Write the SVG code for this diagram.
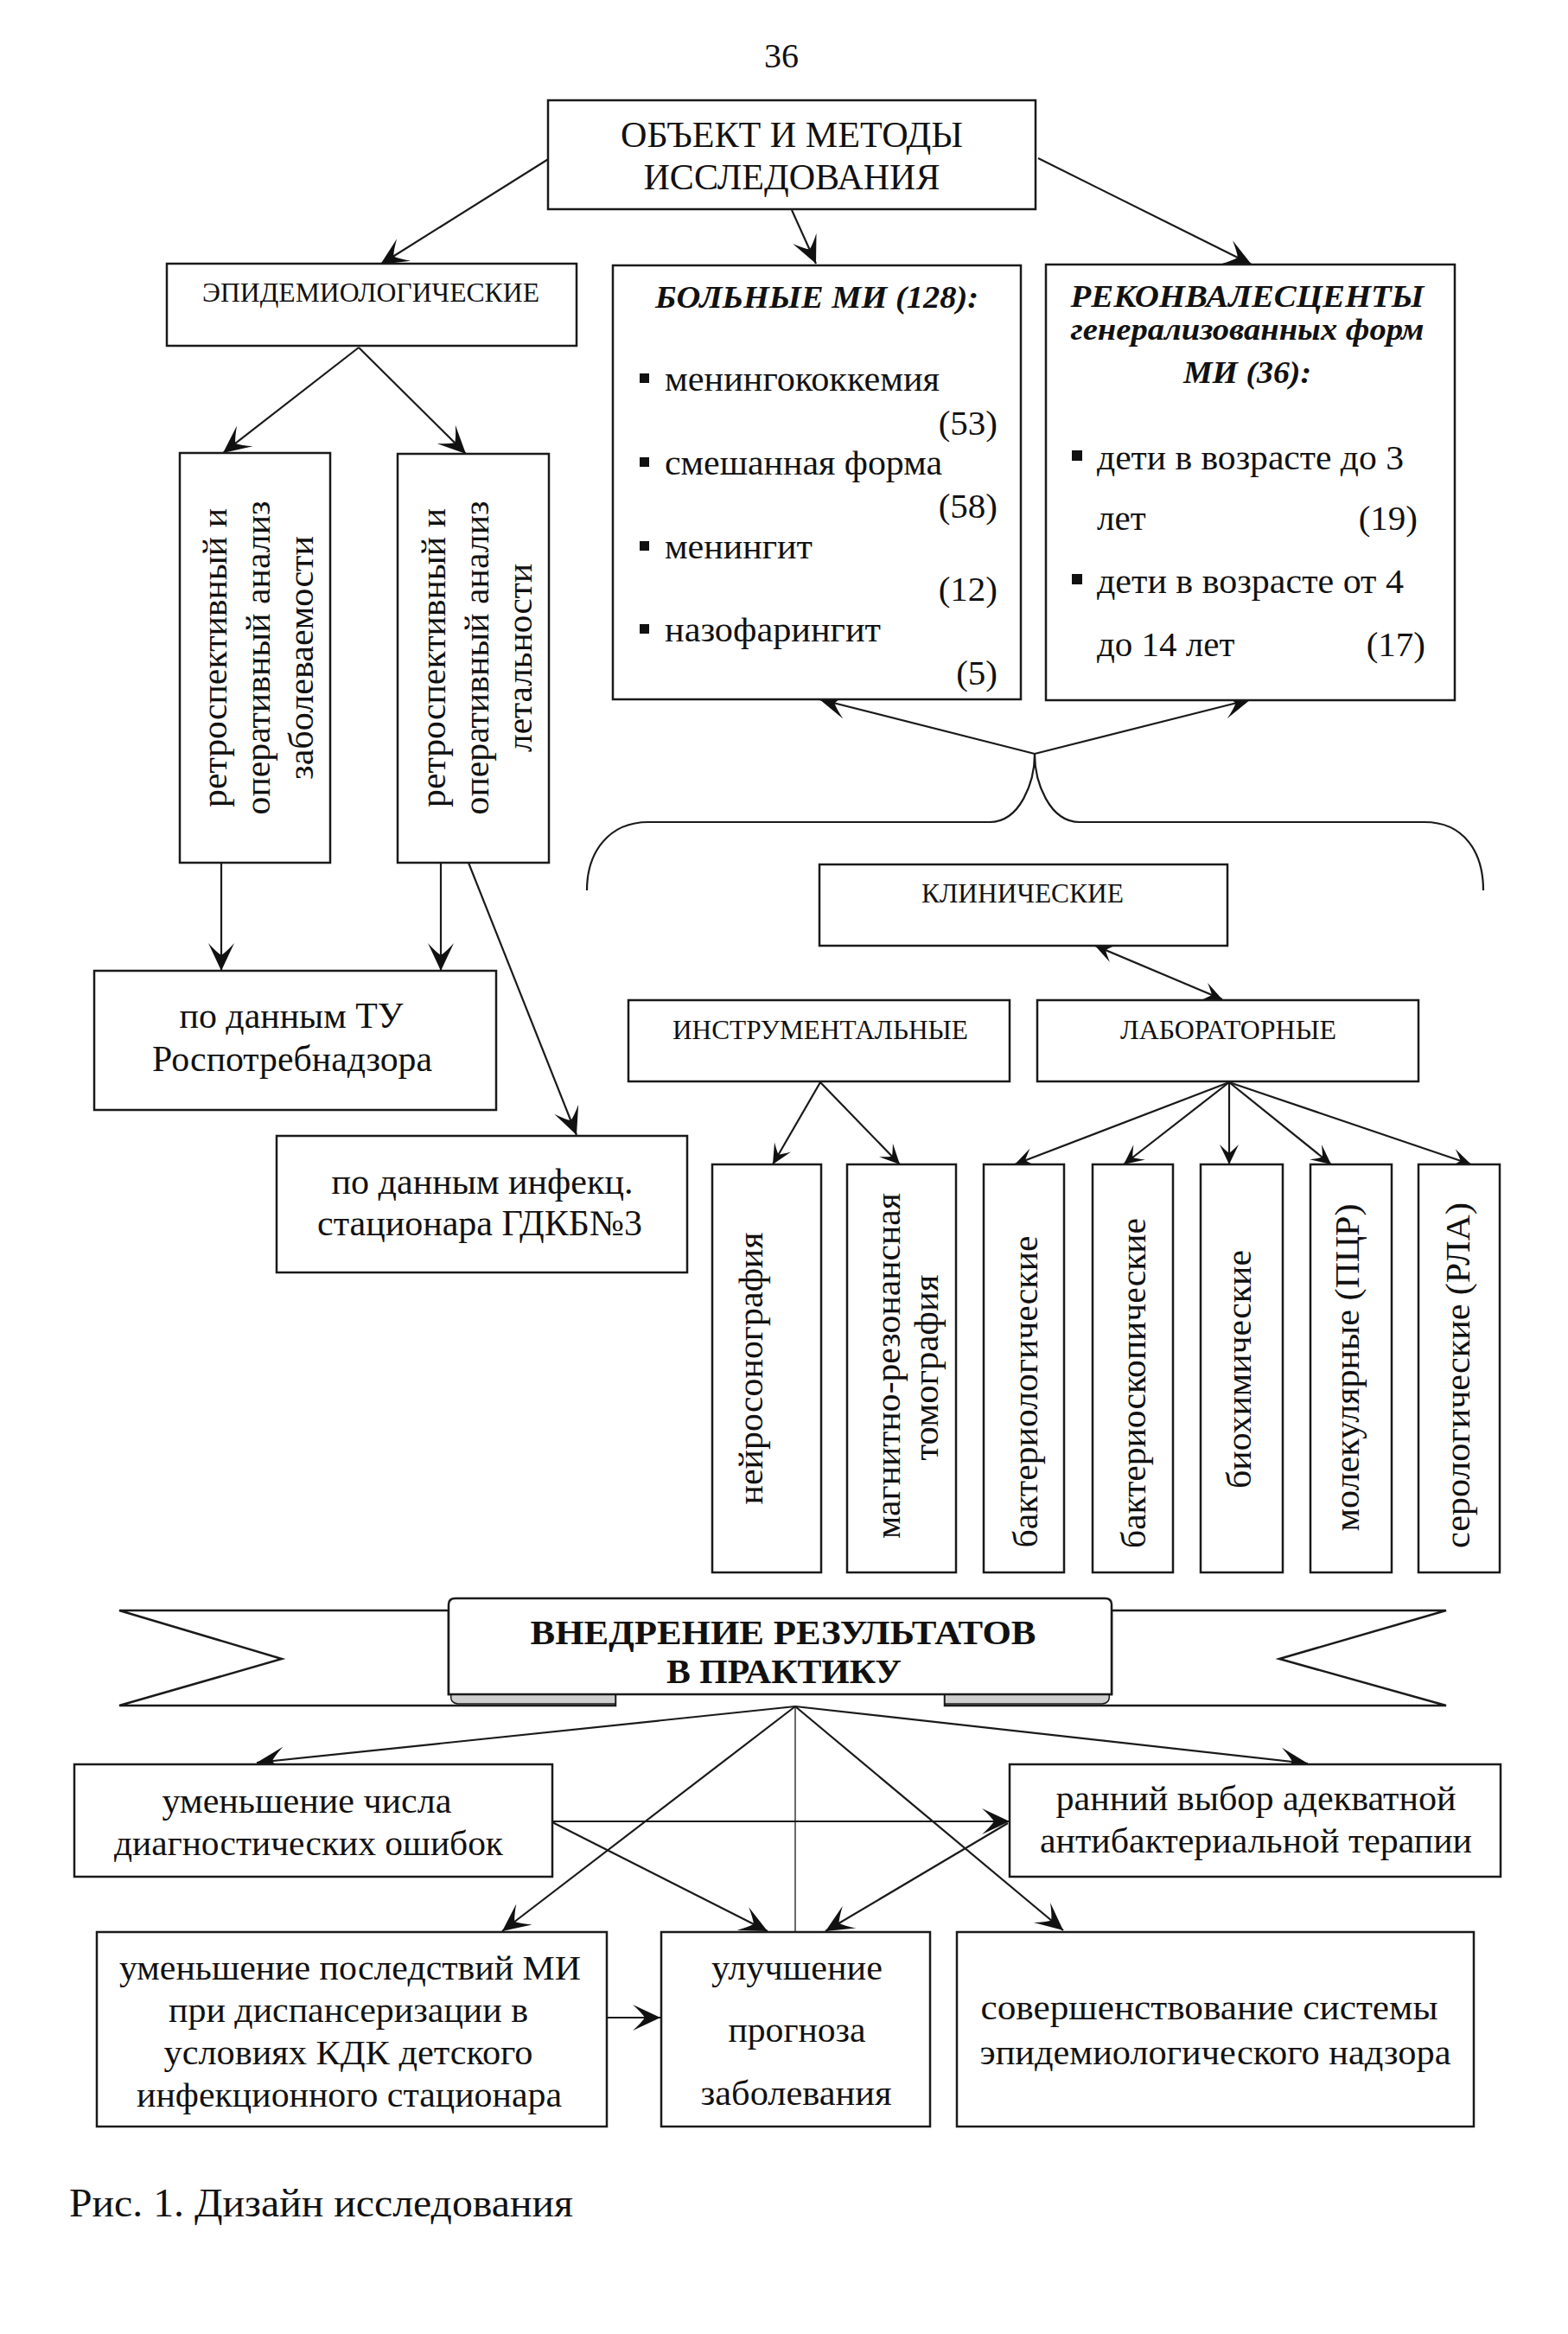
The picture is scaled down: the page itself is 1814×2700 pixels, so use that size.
<svg xmlns="http://www.w3.org/2000/svg" width="1814" height="2700" viewBox="0 0 1814 2700">
<defs>
<style>
text{font-family:"Liberation Serif","DejaVu Serif",serif;fill:#111}
.box{fill:#fff;stroke:#1a1a1a;stroke-width:2.5}
.ln{fill:none;stroke:#1a1a1a;stroke-width:2.2}
.thin{fill:none;stroke:#1a1a1a;stroke-width:1.3}
.a{marker-end:url(#ah)}
.s{marker-end:url(#ahs)}
.ds{marker-start:url(#ahs2);marker-end:url(#ahs)}
.t41{font-size:41px}
.t42{font-size:42px}
.t31{font-size:31px}
.bi{font-weight:bold;font-style:italic;font-size:35px}
.b{font-weight:bold;font-size:39px}
.m{text-anchor:middle}
.e{text-anchor:end}
.bul{fill:#111}
</style>
<marker id="ah" viewBox="-34 -17 36 34" refX="0" refY="0" markerWidth="36" markerHeight="34" markerUnits="userSpaceOnUse" orient="auto"><path d="M0,0 L-32,-15 Q-22,-6 -18,0 Q-22,6 -32,15 Z" fill="#111"/></marker>
<marker id="ahs" viewBox="-26 -13 28 26" refX="0" refY="0" markerWidth="28" markerHeight="26" markerUnits="userSpaceOnUse" orient="auto"><path d="M0,0 L-23,-11 Q-16,-4 -13,0 Q-16,4 -23,11 Z" fill="#111"/></marker>
<marker id="ahs2" viewBox="-26 -13 28 26" refX="0" refY="0" markerWidth="28" markerHeight="26" markerUnits="userSpaceOnUse" orient="auto-start-reverse"><path d="M0,0 L-23,-11 Q-16,-4 -13,0 Q-16,4 -23,11 Z" fill="#111"/></marker>
</defs>
<rect width="1814" height="2700" fill="#fff"/>
<text x="904" y="78" class="m" font-size="40">36</text>

<g id="connectors">
<path class="ln a" d="M636,183 L440,306"/>
<path class="ln a" d="M916,243 L944,305"/>
<path class="ln a" d="M1201,183 L1448,306"/>
<path class="ln a" d="M415,402 L258,524"/>
<path class="ln a" d="M415,402 L539,525"/>
<path class="ln a" d="M256,998 L256,1123"/>
<path class="ln a" d="M510,998 L510,1123"/>
<path class="ln a" d="M542,998 L667,1313"/>
<path class="ln" d="M679,1030 C679,985 705,951 750,951 L1145,951 C1180,951 1197,905 1197,872 C1197,905 1214,951 1249,951 L1648,951 C1693,951 1716,985 1716,1030"/>
<path class="ln a" d="M1197,872 L948,809"/>
<path class="ln a" d="M1197,872 L1447,809"/>
<path class="ln ds" d="M1267,1094 L1414,1156"/>
<path class="ln s" d="M949,1252 L894,1347"/>
<path class="ln s" d="M949,1252 L1041,1347"/>
<path class="ln s" d="M1422,1252 L1174,1347"/>
<path class="ln s" d="M1422,1252 L1300,1347"/>
<path class="ln s" d="M1422,1252 L1422,1347"/>
<path class="ln s" d="M1422,1252 L1540,1347"/>
<path class="ln s" d="M1422,1252 L1702,1347"/>
<path class="ln a" d="M920,1974 L297,2039"/>
<path class="ln a" d="M920,1974 L581,2234"/>
<path class="thin" d="M920,1974 L920,2235"/>
<path class="ln a" d="M920,1974 L1513,2040"/>
<path class="ln a" d="M920,1974 L1230,2233"/>
<path class="ln a" d="M639,2107 L1168,2107"/>
<path class="ln a" d="M639,2108 L888,2234"/>
<path class="ln a" d="M1166,2109 L955,2234"/>
<path class="ln a" d="M702,2334 L764,2334"/>
</g>

<g id="n-top">
<rect class="box" x="634" y="116" width="564" height="126"/>
<text x="916" y="170" class="t42 m" textLength="396" lengthAdjust="spacingAndGlyphs">ОБЪЕКТ И МЕТОДЫ</text>
<text x="916" y="219" class="t42 m" textLength="343" lengthAdjust="spacingAndGlyphs">ИССЛЕДОВАНИЯ</text>
</g>

<g id="n-epid">
<rect class="box" x="193" y="305" width="474" height="95"/>
<text x="429" y="349" class="t31 m" textLength="390" lengthAdjust="spacingAndGlyphs">ЭПИДЕМИОЛОГИЧЕСКИЕ</text>
</g>

<g id="n-patients">
<rect class="box" x="709" y="307" width="472" height="502"/>
<text x="945" y="356" class="bi m" textLength="374" lengthAdjust="spacingAndGlyphs">БОЛЬНЫЕ МИ (128):</text>
<rect class="bul" x="740" y="432" width="11" height="11"/>
<text x="769" y="452" class="t41" textLength="318" lengthAdjust="spacingAndGlyphs">менингококкемия</text>
<text x="1154" y="503" class="t41 e">(53)</text>
<rect class="bul" x="740" y="529" width="11" height="11"/>
<text x="769" y="549" class="t41" textLength="321" lengthAdjust="spacingAndGlyphs">смешанная форма</text>
<text x="1154" y="599" class="t41 e">(58)</text>
<rect class="bul" x="740" y="626" width="11" height="11"/>
<text x="769" y="646" class="t41" textLength="171" lengthAdjust="spacingAndGlyphs">менингит</text>
<text x="1154" y="695" class="t41 e">(12)</text>
<rect class="bul" x="740" y="722" width="11" height="11"/>
<text x="769" y="742" class="t41" textLength="250" lengthAdjust="spacingAndGlyphs">назофарингит</text>
<text x="1154" y="792" class="t41 e">(5)</text>
</g>

<g id="n-convalescents">
<rect class="box" x="1210" y="306" width="473" height="504"/>
<text x="1443" y="355" class="bi m" textLength="409" lengthAdjust="spacingAndGlyphs">РЕКОНВАЛЕСЦЕНТЫ</text>
<text x="1443" y="393" class="bi m" textLength="409" lengthAdjust="spacingAndGlyphs">генерализованных форм</text>
<text x="1443" y="443" class="bi m" textLength="148" lengthAdjust="spacingAndGlyphs">МИ (36):</text>
<rect class="bul" x="1240" y="521" width="12" height="12"/>
<text x="1269" y="543" class="t41" textLength="355" lengthAdjust="spacingAndGlyphs">дети в возрасте до 3</text>
<text x="1269" y="613" class="t41">лет</text>
<text x="1640" y="613" class="t41 e">(19)</text>
<rect class="bul" x="1240" y="664" width="12" height="12"/>
<text x="1269" y="686" class="t41" textLength="355" lengthAdjust="spacingAndGlyphs">дети в возрасте от 4</text>
<text x="1269" y="759" class="t41">до 14 лет</text>
<text x="1649" y="759" class="t41 e">(17)</text>
</g>

<g id="n-retro1">
<rect class="box" x="208" y="524" width="174" height="474"/>
<g transform="translate(262,761) rotate(-90)"><text class="t41 m" textLength="346" lengthAdjust="spacingAndGlyphs">ретроспективный и</text></g>
<g transform="translate(312,761) rotate(-90)"><text class="t41 m" textLength="363" lengthAdjust="spacingAndGlyphs">оперативный анализ</text></g>
<g transform="translate(362,761) rotate(-90)"><text class="t41 m" textLength="282" lengthAdjust="spacingAndGlyphs">заболеваемости</text></g>
</g>

<g id="n-retro2">
<rect class="box" x="460" y="525" width="175" height="473"/>
<g transform="translate(515,761) rotate(-90)"><text class="t41 m" textLength="346" lengthAdjust="spacingAndGlyphs">ретроспективный и</text></g>
<g transform="translate(565,761) rotate(-90)"><text class="t41 m" textLength="363" lengthAdjust="spacingAndGlyphs">оперативный анализ</text></g>
<g transform="translate(615,761) rotate(-90)"><text class="t41 m" textLength="218" lengthAdjust="spacingAndGlyphs">летальности</text></g>
</g>

<g id="n-tu">
<rect class="box" x="109" y="1123" width="465" height="161"/>
<text x="337" y="1189" class="t42 m" textLength="259" lengthAdjust="spacingAndGlyphs">по данным ТУ</text>
<text x="338" y="1239" class="t42 m" textLength="324" lengthAdjust="spacingAndGlyphs">Роспотребнадзора</text>
</g>

<g id="n-hospital">
<rect class="box" x="320" y="1314" width="475" height="158"/>
<text x="558" y="1381" class="t42 m" textLength="349" lengthAdjust="spacingAndGlyphs">по данным инфекц.</text>
<text x="555" y="1429" class="t42 m" textLength="376" lengthAdjust="spacingAndGlyphs">стационара ГДКБ№3</text>
</g>

<g id="n-clinical">
<rect class="box" x="948" y="1000" width="472" height="94"/>
<text x="1183" y="1044" class="t31 m" textLength="234" lengthAdjust="spacingAndGlyphs">КЛИНИЧЕСКИЕ</text>
</g>

<g id="n-instr">
<rect class="box" x="727" y="1157" width="441" height="94"/>
<text x="949" y="1202" class="t31 m" textLength="342" lengthAdjust="spacingAndGlyphs">ИНСТРУМЕНТАЛЬНЫЕ</text>
</g>

<g id="n-lab">
<rect class="box" x="1200" y="1157" width="441" height="94"/>
<text x="1421" y="1202" class="t31 m" textLength="250" lengthAdjust="spacingAndGlyphs">ЛАБОРАТОРНЫЕ</text>
</g>

<g id="n-neuro">
<rect class="box" x="824" y="1347" width="126" height="472"/>
<g transform="translate(882,1583) rotate(-90)"><text class="t41 m" textLength="315" lengthAdjust="spacingAndGlyphs">нейросонография</text></g>
</g>
<g id="n-mri">
<rect class="box" x="980" y="1347" width="126" height="472"/>
<g transform="translate(1041,1580) rotate(-90)"><text class="t41 m" textLength="400" lengthAdjust="spacingAndGlyphs">магнитно-резонансная</text></g>
<g transform="translate(1085,1582) rotate(-90)"><text class="t41 m" textLength="215" lengthAdjust="spacingAndGlyphs">томография</text></g>
</g>
<g id="n-bact1">
<rect class="box" x="1138" y="1347" width="93" height="472"/>
<g transform="translate(1200,1610) rotate(-90)"><text class="t41 m" textLength="361" lengthAdjust="spacingAndGlyphs">бактериологические</text></g>
</g>
<g id="n-bact2">
<rect class="box" x="1264" y="1347" width="93" height="472"/>
<g transform="translate(1325,1600) rotate(-90)"><text class="t41 m" textLength="382" lengthAdjust="spacingAndGlyphs">бактериоскопические</text></g>
</g>
<g id="n-biochem">
<rect class="box" x="1389" y="1347" width="95" height="472"/>
<g transform="translate(1447,1584) rotate(-90)"><text class="t41 m" textLength="276" lengthAdjust="spacingAndGlyphs">биохимические</text></g>
</g>
<g id="n-pcr">
<rect class="box" x="1516" y="1347" width="94" height="472"/>
<g transform="translate(1572,1582) rotate(-90)"><text class="t41 m" textLength="379" lengthAdjust="spacingAndGlyphs">молекулярные (ПЦР)</text></g>
</g>
<g id="n-serol">
<rect class="box" x="1641" y="1347" width="94" height="472"/>
<g transform="translate(1700,1591) rotate(-90)"><text class="t41 m" textLength="400" lengthAdjust="spacingAndGlyphs">серологические (РЛА)</text></g>
</g>

<g id="n-ribbon">
<path class="box" d="M519,1863 L138,1863 L326,1919 L138,1973 L712,1973 L712,1960 L519,1960 Z"/>
<path class="box" d="M1286,1863 L1673,1863 L1480,1919 L1673,1973 L1093,1973 L1093,1960 L1286,1960 Z"/>
<path d="M522,1960 L712,1960 L712,1971 L530,1971 Q520,1970 522,1960 Z" fill="#cfcfcf" stroke="#1a1a1a" stroke-width="1.5"/>
<path d="M1093,1960 L1283,1960 Q1285,1970 1275,1971 L1093,1971 Z" fill="#cfcfcf" stroke="#1a1a1a" stroke-width="1.5"/>
<path class="box" d="M519,1960 L519,1856 Q519,1849 527,1849 L1278,1849 Q1286,1849 1286,1856 L1286,1960 Z"/>
<text x="906" y="1902" class="b m" textLength="585" lengthAdjust="spacingAndGlyphs">ВНЕДРЕНИЕ РЕЗУЛЬТАТОВ</text>
<text x="907" y="1947" class="b m" textLength="272" lengthAdjust="spacingAndGlyphs">В ПРАКТИКУ</text>
</g>

<g id="n-errors">
<rect class="box" x="86" y="2041" width="553" height="130"/>
<text x="355" y="2097" class="t41 m" textLength="335" lengthAdjust="spacingAndGlyphs">уменьшение числа</text>
<text x="357" y="2146" class="t41 m" textLength="450" lengthAdjust="spacingAndGlyphs">диагностических ошибок</text>
</g>

<g id="n-therapy">
<rect class="box" x="1168" y="2041" width="568" height="130"/>
<text x="1453" y="2094" class="t41 m" textLength="463" lengthAdjust="spacingAndGlyphs">ранний выбор адекватной</text>
<text x="1453" y="2143" class="t41 m" textLength="500" lengthAdjust="spacingAndGlyphs">антибактериальной терапии</text>
</g>

<g id="n-consequences">
<rect class="box" x="112" y="2235" width="590" height="225"/>
<text x="405" y="2290" class="t41 m" textLength="534" lengthAdjust="spacingAndGlyphs">уменьшение последствий МИ</text>
<text x="403" y="2339" class="t41 m" textLength="416" lengthAdjust="spacingAndGlyphs">при диспансеризации в</text>
<text x="403" y="2388" class="t41 m" textLength="427" lengthAdjust="spacingAndGlyphs">условиях КДК детского</text>
<text x="404" y="2437" class="t41 m" textLength="492" lengthAdjust="spacingAndGlyphs">инфекционного стационара</text>
</g>

<g id="n-prognosis">
<rect class="box" x="765" y="2235" width="311" height="225"/>
<text x="922" y="2290" class="t41 m" textLength="198" lengthAdjust="spacingAndGlyphs">улучшение</text>
<text x="922" y="2362" class="t41 m" textLength="159" lengthAdjust="spacingAndGlyphs">прогноза</text>
<text x="921" y="2435" class="t41 m" textLength="221" lengthAdjust="spacingAndGlyphs">заболевания</text>
</g>

<g id="n-surveillance">
<rect class="box" x="1107" y="2235" width="598" height="225"/>
<text x="1399" y="2336" class="t41 m" textLength="529" lengthAdjust="spacingAndGlyphs">совершенствование системы</text>
<text x="1406" y="2388" class="t41 m" textLength="545" lengthAdjust="spacingAndGlyphs">эпидемиологического надзора</text>
</g>

<text x="80" y="2564" font-size="46" textLength="583" lengthAdjust="spacingAndGlyphs">Рис. 1. Дизайн исследования</text>
</svg>
